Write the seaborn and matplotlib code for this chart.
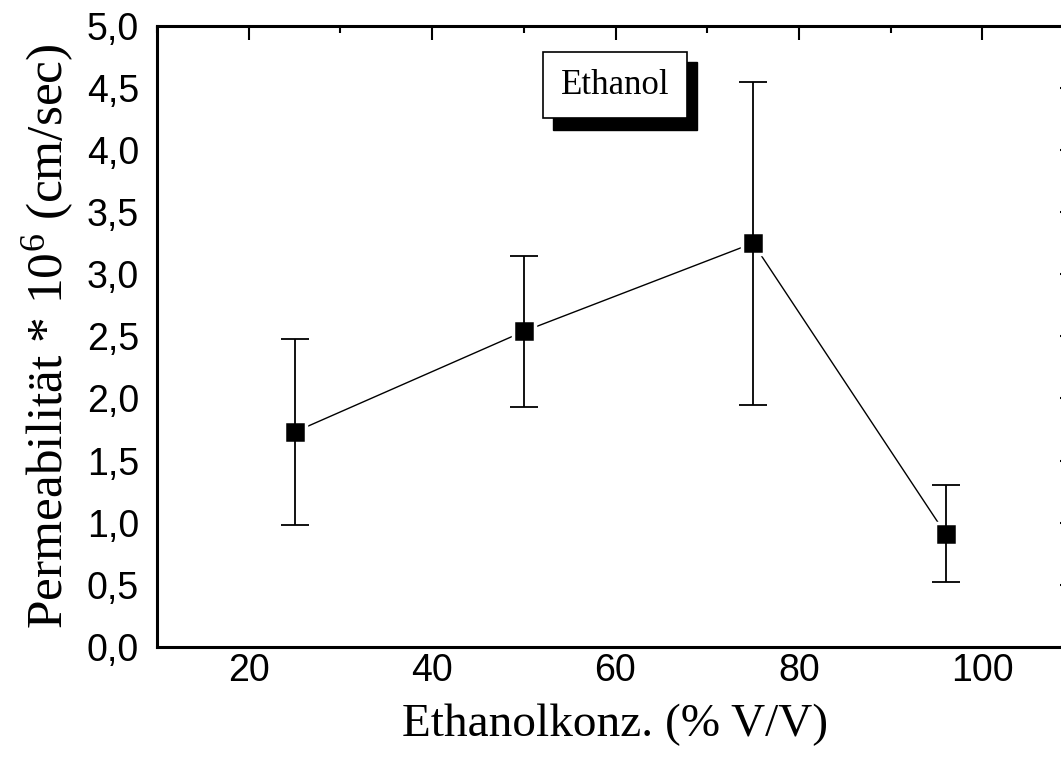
import matplotlib
matplotlib.use("Agg")
import matplotlib.pyplot as plt
import seaborn as sns
import pandas as pd
from matplotlib.patches import Rectangle
from matplotlib.ticker import MultipleLocator, FuncFormatter

conc = [25, 50, 75, 96]
perm = [1.73, 2.54, 3.25, 0.91]
err = [0.75, 0.61, 1.30, 0.39]
xticks = [20, 40, 60, 80, 100]
label_text = "Ethanol"

sns.set_theme(style="white")
plt.rcParams["font.family"] = ["Liberation Sans", "DejaVu Sans"]
plt.rcParams["text.color"] = "black"
plt.rcParams["axes.labelcolor"] = "black"
plt.rcParams["mathtext.fontset"] = "custom"
plt.rcParams["mathtext.rm"] = "Liberation Serif"
plt.rcParams["mathtext.it"] = "Liberation Serif"
plt.rcParams["mathtext.default"] = "regular"

df = pd.DataFrame({"conc": conc, "perm": perm})

fig = plt.figure(figsize=(10.61, 7.69), dpi=100)
W, H = 1061, 769
left, right, top, bottom = 157, 1074, 25.7, 647
ax = fig.add_axes([left / W, (H - bottom) / H, (right - left) / W, (bottom - top) / H])

sns.lineplot(data=df, x="conc", y="perm", ax=ax, color="black", lw=1.0, zorder=1)
sns.scatterplot(data=df, x="conc", y="perm", ax=ax, marker="s", s=250, color="black",
                edgecolor="white", linewidth=2.5, zorder=2)
ax.errorbar(conc, perm, yerr=err, fmt="none", ecolor="black", elinewidth=1.3,
            capsize=10, capthick=1.3, zorder=3)

ax.set_xlim(10, 110)
ax.set_ylim(0, 5.0)
ax.set_xticks(xticks)
ax.xaxis.set_minor_locator(MultipleLocator(10))
ax.yaxis.set_major_locator(MultipleLocator(0.5))
ax.yaxis.set_minor_locator(MultipleLocator(0.25))
ax.yaxis.set_major_formatter(FuncFormatter(lambda v, p: f"{v:.1f}".replace(".", ",")))

ax.tick_params(which="both", direction="in", top=True, right=True, width=1.5,
               labelsize=27, colors="black")
ax.tick_params(axis="y", pad=13)
ax.tick_params(axis="x", pad=4)
ax.tick_params(which="major", length=10)
ax.tick_params(which="minor", length=5)
for s in ax.spines.values():
    s.set_linewidth(2.2)
    s.set_color("black")

ax.set_xlabel("Ethanolkonz. (% V/V)", fontsize=34, family="Liberation Serif", labelpad=11)
ax.set_ylabel(r"Permeabilität * 10$^{6}$ (cm/sec)", fontsize=37, family="Liberation Serif",
              labelpad=8)

# Label box with shadow
tf = fig.transFigure
def fx(px): return px / W
def fy(py): return (H - py) / H
fig.patches.append(Rectangle((fx(553), fy(130)), fx(697) - fx(553), fy(62) - fy(130),
                             transform=tf, facecolor="black", edgecolor="black", zorder=5))
fig.patches.append(Rectangle((fx(543), fy(118)), fx(687) - fx(543), fy(52) - fy(118),
                             transform=tf, facecolor="white", edgecolor="black", lw=1.2, zorder=6))
fig.text(fx(615), fy(86), label_text, ha="center", va="center", fontsize=25,
         family="Liberation Serif", color="black", zorder=7)

fig.savefig("out.png", dpi=100)
